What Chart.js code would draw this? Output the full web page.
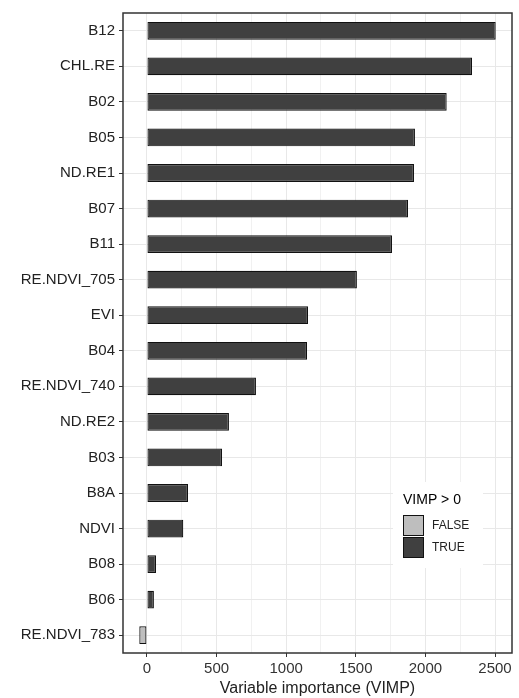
<!DOCTYPE html>
<html>
<head>
<meta charset="utf-8">
<script src="https://cdn.jsdelivr.net/npm/chart.js@4/dist/chart.umd.min.js"></script>
<style>
  html, body { margin: 0; padding: 0; background: #fff; }
  #wrap { width: 519px; height: 698px; }
</style>
</head>
<body>
<div id="wrap"><canvas id="vimpChart" width="519" height="698"></canvas></div>
<script>
// Variables et valeurs VIMP
const variables = ["B12", "CHL.RE", "B02", "B05", "ND.RE1", "B07", "B11", "RE.NDVI_705", "EVI", "B04",
  "RE.NDVI_740", "ND.RE2", "B03", "B8A", "NDVI", "B08", "B06", "RE.NDVI_783"];
const vimp = [2505, 2335, 2153, 1925, 1918, 1875, 1760, 1508, 1157, 1150,
  783, 589, 539, 295, 261, 65, 50, -55];
const xTicks = [0, 250, 500, 750, 1000, 1250, 1500, 1750, 2000, 2250, 2500];
const legendLabels = ["FALSE", "TRUE"];
const legendColors = ["#bebebe", "#404040"];

const FONT = "'Liberation Sans', Arial, sans-serif";

// Cadre du panneau + légende
const panelPlugin = {
  id: "panel",
  afterDraw(chart) {
    const { ctx, chartArea: a } = chart;
    ctx.save();
    // légende
    ctx.fillStyle = "#fff";
    ctx.fillRect(393, 482, 90, 86);
    ctx.fillStyle = "#000";
    ctx.font = "14px " + FONT;
    ctx.textBaseline = "middle";
    ctx.fillText("VIMP > 0", 403, 500);
    legendLabels.forEach((lab, i) => {
      const y = 515 + i * 22;
      ctx.fillStyle = legendColors[i];
      ctx.fillRect(403, y, 21, 21);
      ctx.strokeStyle = "#111";
      ctx.lineWidth = 1;
      ctx.strokeRect(403.5, y + 0.5, 20, 20);
      ctx.fillStyle = "#222";
      ctx.font = "12px " + FONT;
      ctx.fillText(lab, 432, y + 11);
    });
    // cadre
    ctx.strokeStyle = "#333";
    ctx.lineWidth = 1.5;
    ctx.strokeRect(a.left, a.top, a.right - a.left, a.bottom - a.top);
    ctx.restore();
  }
};

try {
  const ctx = document.getElementById("vimpChart");
  new Chart(ctx, {
    type: "bar",
    data: {
      labels: variables,
      datasets: [
        {
          data: vimp,
          backgroundColor: vimp.map(v => (v > 0 ? legendColors[1] : legendColors[0])),
          borderColor: "#111",
          borderWidth: 1.2,
          borderSkipped: false,
          barPercentage: 0.5,
          categoryPercentage: 1,
        },
      ],
    },
    options: {
      indexAxis: "y",
      responsive: false,
      animation: false,
      layout: { padding: { top: 10, right: 7, left: 0, bottom: 0 } },
      plugins: { legend: { display: false }, tooltip: { enabled: false } },
      scales: {
        x: {
          min: -172,
          max: 2622,
          afterBuildTicks: s => { s.ticks = xTicks.map(v => ({ value: v })); },
          afterFit: s => { s.height = 45; },
          border: { display: false },
          grid: {
            color: c => (c.tick && c.tick.value % 500 === 0 ? "#e8e8e8" : "#f1f1f1"),
            lineWidth: 1,
            tickLength: 4,
            tickColor: c => (c.tick && c.tick.value % 500 === 0 ? "#333" : "rgba(0,0,0,0)"),
          },
          ticks: {
            autoSkip: false,
            maxRotation: 0,
            padding: 3,
            color: "#333",
            font: { family: FONT, size: 15 },
            callback: v => (v % 500 === 0 ? String(v) : ""),
          },
          title: {
            display: true,
            text: "Variable importance (VIMP)",
            color: "#222",
            font: { family: FONT, size: 16 },
            padding: { top: 0, bottom: 0 },
          },
        },
        y: {
          afterFit: s => { s.width = 123; },
          border: { display: false },
          grid: {
            color: "#e8e8e8",
            lineWidth: 1,
            offset: false,
            tickLength: 4,
            tickColor: "#333",
          },
          ticks: {
            padding: 4,
            color: "#222",
            font: { family: FONT, size: 15 },
          },
        },
      },
    },
    plugins: [panelPlugin],
  });
} catch (error) {
  console.error("Erreur graphique VIMP:", error);
}
</script>
</body>
</html>
